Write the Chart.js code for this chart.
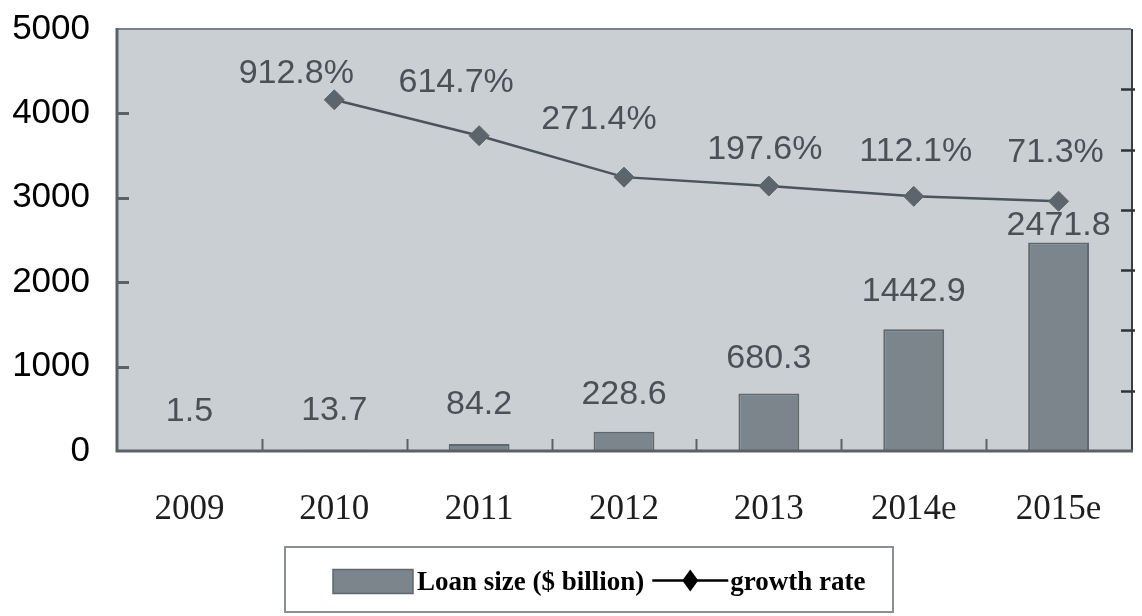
<!DOCTYPE html>
<html>
<head>
<meta charset="utf-8">
<script src="https://cdn.jsdelivr.net/npm/chart.js@4/dist/chart.umd.min.js"></script>
<style>
  html, body { margin: 0; padding: 0; background: #ffffff; }
  #wrap { width: 1142px; height: 616px; position: relative; }
</style>
</head>
<body>
<div id="wrap"><canvas id="c" width="1142" height="616"></canvas></div>
<script>
// Years on the category axis
const categories = ['2009', '2010', '2011', '2012', '2013', '2014e', '2015e'];
// Loan size, $ billion
const loanSize = [1.5, 13.7, 84.2, 228.6, 680.3, 1442.9, 2471.8];
// Year-on-year growth rate, %
const growthRate = [null, 912.8, 614.7, 271.4, 197.6, 112.1, 71.3];
// Left axis range and step
const loanAxis = { min: 0, max: 5000, step: 1000 };
// Right (growth) axis range and step; its labels are not shown
const growthAxis = { min: -2000, max: 1500, step: 500 };

const SANS = '"Liberation Sans", Arial, sans-serif';
const SERIF = '"Liberation Serif", "Times New Roman", serif';

const FRAME = '#5a6267';
const PLOT_BG = '#cacfd4';

// Plot background, frame, inward tick marks
const frame = {
  id: 'frame',
  beforeDraw(chart) {
    const { ctx, chartArea: a } = chart;
    ctx.save();
    ctx.fillStyle = PLOT_BG;
    ctx.fillRect(a.left, a.top, a.right - a.left, a.bottom - a.top);
    ctx.restore();
  },
  afterDatasetsDraw(chart) {
    const { ctx, chartArea: a, scales } = chart;
    const y = scales.y, y1 = scales.y1, x = scales.x;
    ctx.save();
    ctx.lineCap = 'butt';
    // top edge
    ctx.strokeStyle = '#7b8388';
    ctx.lineWidth = 2;
    ctx.beginPath(); ctx.moveTo(a.left, a.top); ctx.lineTo(a.right, a.top); ctx.stroke();
    // right edge
    ctx.strokeStyle = '#3a3f42';
    ctx.lineWidth = 2;
    ctx.beginPath(); ctx.moveTo(a.right + 1, a.top); ctx.lineTo(a.right + 1, a.bottom); ctx.stroke();
    // left and bottom axes
    ctx.strokeStyle = FRAME;
    ctx.lineWidth = 3;
    ctx.beginPath();
    ctx.moveTo(a.left, a.top - 1);
    ctx.lineTo(a.left, a.bottom);
    ctx.lineTo(a.right + 2, a.bottom);
    ctx.stroke();
    // left inward ticks
    ctx.lineWidth = 3;
    for (let v = loanAxis.min + loanAxis.step; v < loanAxis.max; v += loanAxis.step) {
      const py = Math.round(y.getPixelForValue(v)) + 0.5;
      ctx.beginPath(); ctx.moveTo(a.left, py); ctx.lineTo(a.left + 12, py); ctx.stroke();
    }
    // right axis ticks (crossing)
    ctx.strokeStyle = '#2f3336';
    ctx.lineWidth = 2.5;
    for (let v = growthAxis.min + growthAxis.step; v < growthAxis.max; v += growthAxis.step) {
      const py = Math.round(y1.getPixelForValue(v)) + 0.5;
      ctx.beginPath(); ctx.moveTo(a.right - 10, py); ctx.lineTo(a.right + 4, py); ctx.stroke();
    }
    // category separators on the bottom axis
    ctx.strokeStyle = FRAME;
    ctx.lineWidth = 2;
    for (let i = 0; i < categories.length - 1; i++) {
      const px = Math.round((x.getPixelForValue(i) + x.getPixelForValue(i + 1)) / 2) + 0.5;
      ctx.beginPath(); ctx.moveTo(px, a.bottom); ctx.lineTo(px, a.bottom - 12); ctx.stroke();
    }
    ctx.restore();
  }
};

// Value labels for bars and the growth line
const valueLabels = {
  id: 'valueLabels',
  afterDatasetsDraw(chart, args, opts) {
    const { ctx } = chart;
    ctx.save();
    ctx.font = '34px ' + SANS;
    ctx.fillStyle = '#4b5055';
    ctx.textAlign = 'center';
    ctx.textBaseline = 'middle';
    const bars = chart.getDatasetMeta(1).data;
    bars.forEach((el, i) => {
      const v = loanSize[i];
      ctx.fillText(String(v), el.x, el.y - opts.barLift[i]);
    });
    const pts = chart.getDatasetMeta(0).data;
    pts.forEach((el, i) => {
      const g = growthRate[i];
      if (g == null) return;
      const off = opts.growthShift[i];
      ctx.fillText(g.toFixed(1) + '%', el.x + off[0], el.y + off[1]);
    });
    ctx.restore();
  }
};

// Boxed legend under the category labels
const boxLegend = {
  id: 'boxLegend',
  afterDraw(chart, args, opts) {
    const { ctx } = chart;
    const b = opts.box;
    ctx.save();
    ctx.fillStyle = '#ffffff';
    ctx.fillRect(b.x, b.y, b.w, b.h);
    ctx.strokeStyle = '#8a8f92';
    ctx.lineWidth = 2;
    ctx.strokeRect(b.x, b.y, b.w, b.h);

    const cy = b.y + b.h / 2 + 4;
    const barDs = chart.data.datasets[1];
    const lineDs = chart.data.datasets[0];
    // bar swatch
    ctx.fillStyle = barDs.backgroundColor;
    ctx.fillRect(b.x + 48, cy - 14, 80, 24);
    ctx.strokeStyle = barDs.borderColor;
    ctx.lineWidth = 1.5;
    ctx.strokeRect(b.x + 48, cy - 14, 80, 24);

    ctx.font = 'bold 27px ' + SERIF;
    ctx.fillStyle = '#000000';
    ctx.textAlign = 'left';
    ctx.textBaseline = 'middle';
    let tx = b.x + 132;
    ctx.fillText(barDs.label, tx, cy);
    tx += ctx.measureText(barDs.label).width + 8;

    // line sample with diamond
    ctx.strokeStyle = '#000000';
    ctx.lineWidth = 2.5;
    ctx.beginPath(); ctx.moveTo(tx, cy - 3); ctx.lineTo(tx + 76, cy - 3); ctx.stroke();
    const dx = tx + 38, dy = cy - 3;
    ctx.fillStyle = '#000000';
    ctx.beginPath();
    ctx.moveTo(dx, dy - 11); ctx.lineTo(dx + 8, dy); ctx.lineTo(dx, dy + 11); ctx.lineTo(dx - 8, dy);
    ctx.closePath(); ctx.fill();
    ctx.fillText(lineDs.label, tx + 78, cy);
    ctx.restore();
  }
};

new Chart(document.getElementById('c'), {
  data: {
    labels: categories,
    datasets: [
      {
        type: 'line',
        label: 'growth rate',
        data: growthRate,
        yAxisID: 'y1',
        order: 0,
        borderColor: '#4b5459',
        borderWidth: 2.5,
        tension: 0,
        pointStyle: 'rectRot',
        pointRadius: 10,
        pointHoverRadius: 10,
        pointBackgroundColor: '#5b656b',
        pointBorderColor: '#5b656b',
        pointBorderWidth: 1
      },
      {
        type: 'bar',
        label: 'Loan size ($ billion)',
        data: loanSize,
        yAxisID: 'y',
        order: 1,
        backgroundColor: '#7b858b',
        borderColor: '#5f686d',
        borderWidth: 2,
        categoryPercentage: 1,
        barPercentage: 0.42
      }
    ]
  },
  options: {
    responsive: false,
    devicePixelRatio: 1,
    animation: false,
    events: [],
    layout: { padding: { top: 29, right: 5, bottom: 0, left: 0 } },
    scales: {
      x: {
        grid: { display: false, drawTicks: true, tickLength: 38 },
        border: { display: false },
        ticks: {
          font: { family: SERIF, size: 35 },
          color: '#1e1e1e',
          padding: 0,
          maxRotation: 0,
          autoSkip: false
        },
        afterFit(s) { s.height = 165; }
      },
      y: {
        position: 'left',
        min: loanAxis.min,
        max: loanAxis.max,
        grid: { display: false, drawTicks: true, tickLength: 27 },
        border: { display: false },
        ticks: {
          stepSize: loanAxis.step,
          font: { family: SANS, size: 35 },
          color: '#000000',
          padding: 0,
          callback: (v) => String(v)
        },
        afterFit(s) { s.width = 117; }
      },
      y1: {
        position: 'right',
        display: false,
        min: growthAxis.min,
        max: growthAxis.max,
        ticks: { stepSize: growthAxis.step }
      }
    },
    plugins: {
      legend: { display: false },
      tooltip: { enabled: false },
      valueLabels: {
        barLift: [39, 39, 39, 37, 35, 38, 17],
        growthShift: [null, [-38, -26], [-23, -53], [-25, -58], [-4, -36], [2, -45], [-3, -49]]
      },
      boxLegend: { box: { x: 285, y: 547, w: 608, h: 65 } }
    }
  },
  plugins: [frame, valueLabels, boxLegend]
});
</script>
</body>
</html>
